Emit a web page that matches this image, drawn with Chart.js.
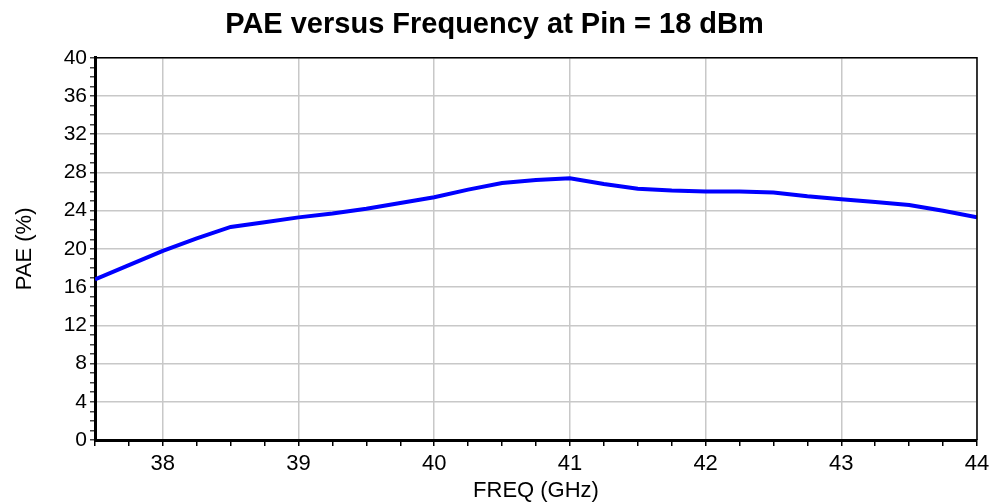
<!DOCTYPE html>
<html>
  <head>
    <title>PAE versus Frequency</title>
    <script src="https://cdn.jsdelivr.net/npm/chart.js@4.4.0/dist/chart.umd.min.js"></script>
    <style>
      html,body{
        margin: 0;
        padding: 0;
        background: #fff;
      }
      #wrap{
        width: 989px;
        height: 504px;
      }
    </style>
  </head>
  <body>
    <div id="wrap"><canvas id="myChart"></canvas></div>

    <script>
      // frequency in GHz, PAE in %
      const freq = [37.5, 37.75, 38, 38.25, 38.5, 38.75, 39, 39.25, 39.5, 39.75, 40, 40.25, 40.5, 40.75,
                    41, 41.25, 41.5, 41.75, 42, 42.25, 42.5, 42.75, 43, 43.25, 43.5, 43.75, 44]
      const pae = [16.8, 18.3, 19.8, 21.1, 22.3, 22.8, 23.3, 23.7, 24.2, 24.8, 25.4, 26.2, 26.9, 27.2,
                   27.4, 26.8, 26.3, 26.1, 26.0, 26.0, 25.9, 25.5, 25.2, 24.9, 24.6, 24.0, 23.3]

      const xTicks = [38, 39, 40, 41, 42, 43, 44]
      const yTicks = [0, 4, 8, 12, 16, 20, 24, 28, 32, 36, 40]

      const fonte = 'Arial, "Liberation Sans", sans-serif'

      // thin frame on top and right
      const moldura = {
        id: 'moldura',
        afterDraw(chart){
          const a = chart.chartArea
          const ctx = chart.ctx
          ctx.save()
          ctx.strokeStyle = '#000'
          ctx.lineWidth = 1.5
          ctx.beginPath()
          ctx.moveTo(a.left, a.top)
          ctx.lineTo(a.right, a.top)
          ctx.lineTo(a.right, a.bottom)
          ctx.stroke()
          ctx.restore()
        }
      }

      let ctx = document.getElementById('myChart').getContext('2d')
      let myChart = new Chart(ctx, {
        type: 'line',
        data: {
          datasets: [{
            data: freq.map((f, i) => ({x: f, y: pae[i]})),
            borderColor: '#0000ff',
            borderWidth: 4,
            pointRadius: 0,
            tension: 0,
            fill: false,
          }]
        },
        options: {
          responsive: true,
          maintainAspectRatio: false,
          animation: false,
          layout: { padding: {left: 0, right: 0, top: 0, bottom: 0} },
          plugins: {
            legend: { display: false },
            tooltip: { enabled: false },
            title: {
              display: true,
              text: 'PAE versus Frequency at Pin = 18 dBm',
              color: '#000',
              font: { family: fonte, size: 29, weight: 'bold' },
              padding: { top: 8, bottom: 15 },
            },
          },
          scales: {
            x: {
              type: 'linear',
              min: 37.5,
              max: 44,
              afterBuildTicks: s => {
                const t = []
                for (let v = 37.5; v <= 44.001; v += 0.25) t.push({value: v})
                s.ticks = t
              },
              afterFit: s => { s.height = 64; s.paddingRight = 12 },
              ticks: {
                autoSkip: false,
                maxRotation: 0,
                color: '#000',
                font: { family: fonte, size: 22 },
                padding: 5,
                callback: v => xTicks.includes(v) ? String(v) : '',
              },
              grid: {
                color: c => (c.tick && xTicks.includes(c.tick.value)) ? '#c8c8c8' : 'rgba(0,0,0,0)',
                lineWidth: 1.5,
                tickColor: '#000',
                tickLength: 6,
              },
              border: { color: '#000', width: 3 },
              title: {
                display: true,
                text: 'FREQ (GHz)',
                color: '#000',
                font: { family: fonte, size: 22 },
                padding: { top: 0, bottom: 0 },
              },
            },
            y: {
              min: 0,
              max: 40,
              afterBuildTicks: s => {
                const t = []
                for (let v = 0; v <= 40; v += 1) t.push({value: v})
                s.ticks = t
              },
              afterFit: s => { s.width = 95 },
              ticks: {
                autoSkip: false,
                color: '#000',
                font: { family: fonte, size: 21 },
                padding: 3,
                callback: v => yTicks.includes(v) ? String(v) : '',
              },
              grid: {
                color: c => (c.tick && yTicks.includes(c.tick.value) && c.tick.value !== 0) ? '#c8c8c8' : 'rgba(0,0,0,0)',
                lineWidth: 1.5,
                tickColor: '#444',
                tickLength: 5,
              },
              border: { color: '#000', width: 3 },
              title: {
                display: true,
                text: 'PAE (%)',
                color: '#000',
                font: { family: fonte, size: 22 },
                padding: { top: 12, bottom: 8 },
              },
            },
          },
        },
        plugins: [moldura],
      })
    </script>
  </body>
</html>
